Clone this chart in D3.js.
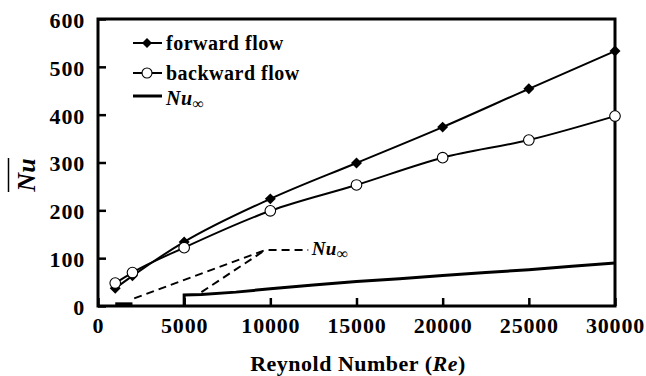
<!DOCTYPE html>
<html>
<head>
<meta charset="utf-8">
<script src="https://cdn.jsdelivr.net/npm/d3@7"></script>
<style>
  body { margin: 0; background: #fff; }
</style>
</head>
<body>
<div id="chart"></div>
<script>
// data
var reynolds = [1000, 2000, 5000, 10000, 15000, 20000, 25000, 30000];
var forwardFlow = [37, 63, 134, 224, 299, 374, 454, 533];
var backwardFlow = [48, 70, 122, 199, 253, 310, 347, 397];

// Nu infinity (solid line), two pieces
var nuInfLowRe = [1000, 2000];
var nuInfLowVal = [4, 4];
var nuInfRe = [5000, 5000, 6000, 8000, 10000, 12500, 15000, 17500, 20000, 22500, 25000, 27500, 30000];
var nuInfVal = [0, 23, 24, 29, 36, 44, 51, 57, 64, 70, 76, 83, 90];

// dashed leader lines to the Nu-infinity label
var leaderA = [[2100, 16], [9700, 117], [12200, 117]];
var leaderB = [[6000, 29], [9700, 117]];

var xTicks = [0, 5000, 10000, 15000, 20000, 25000, 30000];
var yTicks = [0, 100, 200, 300, 400, 500, 600];

var FONT = "'Liberation Serif', 'Times New Roman', serif";

// set the dimensions and margins of the graph
var margin = {top: 19, right: 31, bottom: 70, left: 98},
    width = 646 - margin.left - margin.right,
    height = 376 - margin.top - margin.bottom;

var root = d3.select("#chart")
    .append("svg")
    .attr("width", 646)
    .attr("height", 376)
    .attr("font-family", FONT)
    .attr("font-weight", "bold");

var svg = root.append("g")
    .attr("transform", `translate(${margin.left}, ${margin.top})`);

var x = d3.scaleLinear().domain([0, 30000]).range([0, width]);
var y = d3.scaleLinear().domain([0, 600]).range([height, 0]);

// X axis (ticks inside)
var xAxis = svg.append("g")
    .attr("transform", "translate(0," + height + ")")
    .call(d3.axisBottom(x).tickValues(xTicks).tickSize(-8).tickPadding(11).tickFormat(d3.format("d")));
xAxis.selectAll("text")
    .attr("font-family", FONT).attr("font-size", 22)
    .style("letter-spacing", "0.8px").attr("fill", "#000");
xAxis.selectAll(".tick line").attr("stroke-width", 2.5);
xAxis.select(".domain").remove();

// Y axis (ticks inside)
var yAxis = svg.append("g")
    .call(d3.axisLeft(y).tickValues(yTicks).tickSize(-8).tickPadding(13));
yAxis.selectAll("text")
    .attr("font-family", FONT).attr("font-size", 22).attr("dy", "0.38em")
    .style("letter-spacing", "0.8px").attr("fill", "#000");
yAxis.selectAll(".tick line").attr("stroke-width", 2.5);
yAxis.select(".domain").remove();

// frame
svg.append("rect")
    .attr("x", 0).attr("y", 0)
    .attr("width", width).attr("height", height)
    .attr("fill", "none")
    .attr("stroke", "#000")
    .attr("stroke-width", 3);

// X label
var xl = svg.append("text")
    .attr("text-anchor", "middle")
    .attr("x", width / 2 + 1.5)
    .attr("y", height + 65)
    .attr("font-size", 22)
    .style("letter-spacing", "0.5px");
xl.append("tspan").text("Reynold Number (");
xl.append("tspan").style("font-style", "italic").text("Re");
xl.append("tspan").text(")");

// Y label with overbar
var yl = svg.append("g").attr("transform", "translate(-63,156) rotate(-90)");
yl.append("text")
    .attr("text-anchor", "middle")
    .attr("font-size", 26)
    .style("font-style", "italic")
    .text("Nu");
yl.append("line")
    .attr("x1", -17).attr("x2", 17)
    .attr("y1", -26.5).attr("y2", -26.5)
    .attr("stroke", "#000").attr("stroke-width", 1.5);

var line = d3.line()
    .x(d => x(d[0]))
    .y(d => y(d[1]));

var fwd = reynolds.map((r, i) => [r, forwardFlow[i]]);
var bwd = reynolds.map((r, i) => [r, backwardFlow[i]]);

// series lines
svg.append("path")
    .datum(fwd)
    .attr("d", line.curve(d3.curveMonotoneX))
    .attr("fill", "none").attr("stroke", "#000").attr("stroke-width", 2);
svg.append("path")
    .datum(bwd)
    .attr("d", line.curve(d3.curveMonotoneX))
    .attr("fill", "none").attr("stroke", "#000").attr("stroke-width", 2);

line.curve(d3.curveLinear);

// Nu infinity
svg.append("path")
    .datum(nuInfRe.map((r, i) => [r, nuInfVal[i]]))
    .attr("d", line)
    .attr("fill", "none").attr("stroke", "#000").attr("stroke-width", 3);
svg.append("path")
    .datum(nuInfLowRe.map((r, i) => [r, nuInfLowVal[i]]))
    .attr("d", line)
    .attr("fill", "none").attr("stroke", "#000").attr("stroke-width", 3.5);

// dashed leaders
[leaderA, leaderB].forEach(pts => {
    svg.append("path")
        .datum(pts)
        .attr("d", line)
        .attr("fill", "none").attr("stroke", "#000")
        .attr("stroke-width", 2).attr("stroke-dasharray", "8,5");
});

function nuInfLabel(sel, size) {
    sel.append("tspan").style("font-style", "italic").text("Nu");
    sel.append("tspan").attr("dy", 4).attr("font-size", size).attr("font-weight", "normal").text("∞");
}

var ann = svg.append("text")
    .attr("x", x(12400))
    .attr("y", y(117) + 5)
    .attr("font-size", 19)
    .style("letter-spacing", "0.4px");
nuInfLabel(ann, 16);

// markers
var diamond = d3.symbol().type(d3.symbolSquare).size(60);
svg.selectAll("path.fwd")
    .data(fwd)
    .enter()
    .append("path")
    .attr("class", "fwd")
    .attr("d", diamond)
    .attr("transform", d => `translate(${x(d[0])},${y(d[1])}) rotate(45)`)
    .attr("fill", "#000");

svg.selectAll("circle.bwd")
    .data(bwd)
    .enter()
    .append("circle")
    .attr("class", "bwd")
    .attr("cx", d => x(d[0]))
    .attr("cy", d => y(d[1]))
    .attr("r", 5.3)
    .attr("fill", "#fff")
    .attr("stroke", "#000")
    .attr("stroke-width", 1.1);

// legend
var legend = svg.append("g").attr("transform", "translate(35, 24)");
var rows = [
    {label: "forward flow", dy: 0},
    {label: "backward flow", dy: 30},
    {label: "nuinf", dy: 53}
];
rows.forEach((r, i) => {
    var g = legend.append("g").attr("transform", `translate(0,${r.dy})`);
    g.append("line")
        .attr("x1", 0).attr("x2", 29)
        .attr("stroke", "#000").attr("stroke-width", i == 2 ? 3 : 2);
    if (i == 0) {
        g.append("path").attr("d", d3.symbol().type(d3.symbolSquare).size(50)).attr("transform", "translate(14,0) rotate(45)").attr("fill", "#000");
    } else if (i == 1) {
        g.append("circle").attr("cx", 14).attr("r", 5).attr("fill", "#fff").attr("stroke", "#000").attr("stroke-width", 1.1);
    }
    var t = g.append("text").attr("x", 33).attr("y", i == 2 ? 9 : 7)
        .attr("font-size", 20).style("letter-spacing", "0.5px");
    if (i == 2) nuInfLabel(t, 16);
    else t.text(r.label);
});
</script>
</body>
</html>
